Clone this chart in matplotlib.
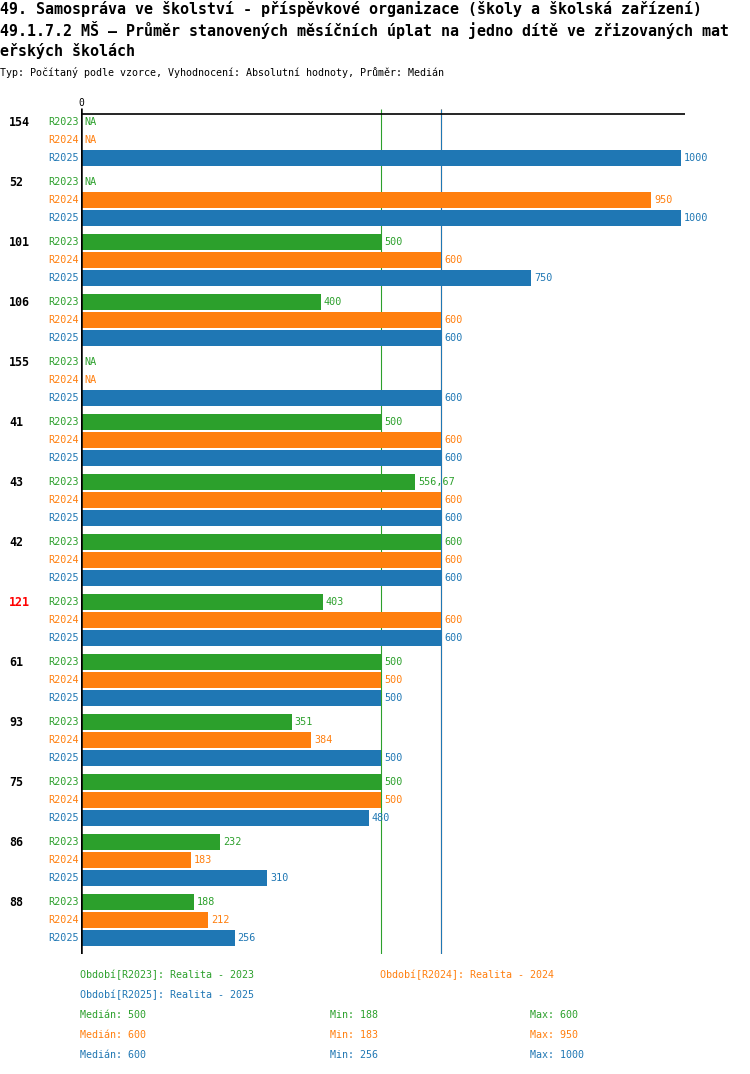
import matplotlib.pyplot as plt
import numpy as np

W, H = 750, 1074

GREEN = "#2ca02c"
ORANGE = "#ff7f0e"
BLUE = "#1f77b4"
RED = "#ff0000"

# data (None = NA)
groups = ["154", "52", "101", "106", "155", "41", "43", "42", "121", "61", "93", "75", "86", "88"]
highlight = ["121"]
series = ["R2023", "R2024", "R2025"]
colors = [GREEN, ORANGE, BLUE]
r2023 = [None, None, 500, 400, None, 500, 556.67, 600, 403, 500, 351, 500, 232, 188]
r2024 = [None, 950, 600, 600, None, 600, 600, 600, 600, 500, 384, 500, 183, 212]
r2025 = [1000, 1000, 750, 600, 600, 600, 600, 600, 600, 500, 500, 480, 310, 256]
values = [r2023, r2024, r2025]
legend_names = ["Období[R2023]: Realita - 2023",
                "Období[R2024]: Realita - 2024",
                "Období[R2025]: Realita - 2025"]

title1 = "49. Samospráva ve školství - příspěvkové organizace (školy a školská zařízení)"
title2 = "49.1.7.2 MŠ – Průměr stanovených měsíčních úplat na jedno dítě ve zřizovaných mat"
title3 = "eřských školách"
subtitle = "Typ: Počítaný podle vzorce, Vyhodnocení: Absolutní hodnoty, Průměr: Medián"

plt.rcParams['font.family'] = ['DejaVu Sans Mono']

fig = plt.figure(figsize=(W / 100, H / 100), dpi=100)


def ftext(x, y, s, **kw):
    fig.text(x / W, 1 - y / H, s, **kw)


def fmt(v):
    if v is None:
        return "NA"
    if float(v).is_integer():
        return str(int(v))
    return ("%.2f" % v).replace(".", ",")


# axes: pixel 81 -> 0, 0.6 px per unit; vertical in pixel rows
ax_left, ax_right, ax_top, ax_bot = 81, 730, 100, 954
ax = fig.add_axes([ax_left / W, 1 - ax_bot / H, (ax_right - ax_left) / W, (ax_bot - ax_top) / H])
ax.set_xlim(0, (ax_right - ax_left) / 0.6)
ax.set_ylim(ax_bot, ax_top)
ax.axis("off")

first_row, row_step, group_step, bar_h = 122, 18, 60, 16

# median lines
for vals, c in zip(values, colors):
    med = np.median([v for v in vals if v is not None])
    ax.vlines(med, 109, ax_bot, color=c, lw=0.8, zorder=1)

ax.vlines(0, 108, ax_bot, color="black", lw=1.8, zorder=4)
allv = [v for vals in values for v in vals if v is not None]
ax.hlines(114, 0, max(allv) * 1.007, color="black", lw=1.2, zorder=3)
ax.text(0, 103, "0", ha="center", va="center", fontsize=7)

for g, name in enumerate(groups):
    y0 = first_row + g * group_step
    ax.text(-72 / 0.6, y0, name, ha="left", va="center", fontsize=8.4, fontweight="bold",
            color=RED if name in highlight else "black")
    for s, (sname, vals, c) in enumerate(zip(series, values, colors)):
        y = y0 + s * row_step
        v = vals[g]
        ax.text(-2 / 0.6, y, sname, ha="right", va="center", fontsize=7.3, color=c)
        if v is not None:
            ax.barh(y, v, height=bar_h, color=c, zorder=2)
            ax.text(v + 3 / 0.6, y, fmt(v), ha="left", va="center", fontsize=7.3, color=c)
        else:
            ax.text(3 / 0.6, y, "NA", ha="left", va="center", fontsize=7.3, color=c)

# header
ftext(0, 9, title1, fontsize=10.8, fontweight="bold", va="center")
ftext(0, 30, title2, fontsize=10.8, fontweight="bold", va="center")
ftext(0, 51, title3, fontsize=10.8, fontweight="bold", va="center")
ftext(0, 73, subtitle, fontsize=7.2, va="center")

# legend
ftext(80, 975, legend_names[0], fontsize=7.2, color=GREEN, va="center")
ftext(380, 975, legend_names[1], fontsize=7.2, color=ORANGE, va="center")
ftext(80, 995, legend_names[2], fontsize=7.2, color=BLUE, va="center")
for i, (vals, c) in enumerate(zip(values, colors)):
    vv = [v for v in vals if v is not None]
    y = 1015 + 20 * i
    ftext(80, y, "Medián: " + fmt(np.median(vv)), fontsize=7.2, color=c, va="center")
    ftext(330, y, "Min: " + fmt(min(vv)), fontsize=7.2, color=c, va="center")
    ftext(530, y, "Max: " + fmt(max(vv)), fontsize=7.2, color=c, va="center")

fig.savefig("out.png", dpi=100)
